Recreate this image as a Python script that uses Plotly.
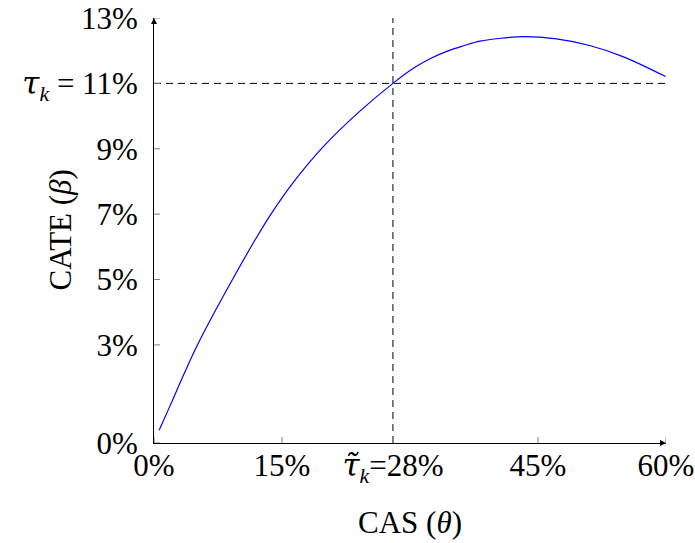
import plotly.graph_objects as go

# ---- data ----
cas = [0.6, 1.85, 3.5, 5.0, 7.4, 9.15, 11.75, 13.65, 16.35, 19.9, 24.0, 28.0,
       30.4, 32.4, 34.3, 36.3, 38.2, 40.6, 43.45, 47.15, 51.05, 54.95, 59.95]
cate = [0.39, 1.12, 2.1, 2.95, 4.15, 4.98, 6.17, 6.98, 7.98, 9.08, 10.12, 11.0,
        11.46, 11.76, 11.98, 12.15, 12.29, 12.38, 12.43, 12.36, 12.16, 11.82, 11.21]

tau_k = 11          # threshold on CATE (%)
tau_tilde_k = 28    # threshold on CAS (%)

x_range = [0, 60]
y_range = [0, 13]

x_tickvals = [0, 15, 28, 45, 60]
x_ticktext = ["0%", "15%",
              "<span style=\"font-family:'DejaVu Serif'\"><i>τ̃</i></span><sub><i>k</i></sub>=28%",
              "45%", "60%"]
y_tickvals = [0, 3, 5, 7, 9, 11, 13]
y_ticktext = ["0%", "3%", "5%", "7%", "9%",
              "<span style=\"font-family:'DejaVu Serif'\"><i>τ</i></span><sub><i>k</i></sub> = 11%",
              "13%"]

FONT = "Liberation Serif"
FS = 31

fig = go.Figure()

# dashed reference lines
fig.add_trace(go.Scatter(x=x_range, y=[tau_k, tau_k], mode="lines",
                         line=dict(color="black", width=1, dash="7px,5px"),
                         hoverinfo="skip", showlegend=False))
fig.add_trace(go.Scatter(x=[tau_tilde_k, tau_tilde_k], y=y_range, mode="lines",
                         line=dict(color="black", width=1, dash="7px,5px"),
                         hoverinfo="skip", showlegend=False))

# the curve
fig.add_trace(go.Scatter(x=cas, y=cate, mode="lines",
                         line=dict(color="#0000ff", width=1.2, shape="spline", smoothing=1.0),
                         showlegend=False))

# axis arrowheads (tips at the axis ends)
fig.add_trace(go.Scatter(x=[x_range[1], x_range[0]], y=[y_range[0], y_range[1]],
                         mode="markers", cliponaxis=False, hoverinfo="skip",
                         marker=dict(symbol=["arrow-right", "arrow-up"], size=6,
                                     color="black", line=dict(width=0)),
                         showlegend=False))

shapes = []
for t in x_tickvals:
    shapes.append(dict(type="line", xref="x", yref="y", x0=t, x1=t,
                       ysizemode="pixel", yanchor=0, y0=-6, y1=6,
                       line=dict(color="#7f7f7f", width=1)))
for t in y_tickvals:
    shapes.append(dict(type="line", xref="x", yref="y", y0=t, y1=t,
                       xsizemode="pixel", xanchor=0, x0=-6, x1=6,
                       line=dict(color="#7f7f7f", width=1)))

annotations = [
    # axis titles
    dict(text="CAS (<i>θ</i>)", xref="paper", yref="paper", x=0.5, y=0,
         xanchor="center", yanchor="middle", yshift=-79, showarrow=False,
         font=dict(family=FONT, size=FS, color="black")),
    dict(text="CATE (<i>β</i>)", xref="paper", yref="paper", x=0, y=0.5,
         xanchor="center", yanchor="middle", xshift=-94, textangle=-90,
         showarrow=False, font=dict(family=FONT, size=FS, color="black")),
]

fig.update_layout(
    template="none",
    width=695, height=543,
    margin=dict(l=154, r=29, t=18, b=100, autoexpand=False),
    paper_bgcolor="white", plot_bgcolor="white",
    font=dict(family=FONT, size=FS, color="black"),
    shapes=shapes, annotations=annotations,
    xaxis=dict(range=x_range, tickvals=x_tickvals, ticktext=x_ticktext,
               automargin=False,
               showgrid=False, zeroline=False, showline=True, linecolor="black",
               linewidth=1, ticks="", ticklabelstandoff=-5, fixedrange=True),
    yaxis=dict(range=y_range, tickvals=y_tickvals, ticktext=y_ticktext,
               automargin=False,
               showgrid=False, zeroline=False, showline=True, linecolor="black",
               linewidth=1, ticks="", ticklabelstandoff=9, fixedrange=True),
)

fig.write_html("out.html", config={"displayModeBar": False},
               post_script="document.body.style.margin='0';document.body.style.overflow='hidden';")
